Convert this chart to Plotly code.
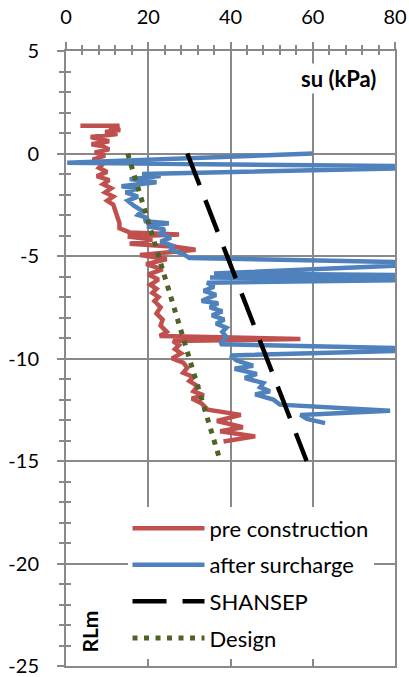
import plotly.graph_objects as go

# ---------------- data ----------------
pre_su = [3.5, 13.0, 10.5, 13.2, 9.5, 12.5, 6.0, 8.5, 10.5, 6.2, 9.0, 10.5, 7.0, 9.5, 6.5, 9.0, 8.0,
          10.0, 7.5, 10.5, 9.0, 11.0, 9.5, 11.5, 10.0, 11.5, 12.0, 12.3, 13.0, 13.0, 15.5, 27.5, 15.0,
          21.0, 15.5, 26.5, 31.5, 18.0, 24.5, 19.5, 23.5, 20.0, 22.5, 20.5, 22.0, 21.0, 22.5, 21.5,
          23.0, 22.0, 23.5, 23.0, 24.5, 22.8, 57.0, 26.0, 27.5, 26.5, 28.0, 25.8, 28.5, 29.5, 28.5,
          31.0, 30.0, 32.0, 31.0, 33.5, 30.6, 33.0, 34.5, 42.5, 36.7, 43.0, 37.5, 46.0, 38.3]
pre_rl = [1.35, 1.35, 1.25, 1.15, 1.05, 0.95, 0.8, 0.7, 0.6, 0.45, 0.35, 0.2, 0.05, -0.1, -0.3, -0.5, -0.7,
          -0.9, -1.1, -1.3, -1.5, -1.7, -1.9, -2.1, -2.3, -2.5, -2.8, -3.1, -3.4, -3.65, -3.85, -3.95, -4.05,
          -4.2, -4.4, -4.55, -4.7, -4.95, -5.15, -5.4, -5.65, -5.9, -6.15, -6.4, -6.6, -6.8, -7.0, -7.2,
          -7.5, -7.8, -8.1, -8.4, -8.7, -8.9, -9.05, -9.15, -9.35, -9.55, -9.75, -10.0, -10.2, -10.45, -10.7,
          -10.9, -11.1, -11.35, -11.6, -11.8, -11.95, -12.2, -12.5, -12.75, -13.05, -13.35, -13.55, -13.8, -14.05]

post_su = [60.0, 0.3, 97.0, 23.0, 18.5, 23.0, 15.5, 22.0, 13.5, 17.5, 14.5, 17.5, 15.0, 16.5, 18.5, 17.5,
           20.0, 19.0, 25.0, 19.7, 24.0, 23.0, 25.5, 23.0, 26.0, 25.5, 28.5, 30.0, 95.0, 36.0, 95.0, 35.0,
           95.0, 34.3, 36.0, 33.5, 36.5, 34.0, 33.0, 37.0, 35.0, 38.0, 35.5, 38.5, 36.5, 39.0, 38.0, 39.0,
           37.5, 95.0, 40.0, 41.5, 45.5, 41.0, 46.4, 43.5, 48.0, 47.2, 49.6, 46.0, 50.4, 52.0, 78.8, 57.0,
           58.6, 63.0]
post_rl = [0.0, -0.45, -0.65, -0.95, -1.0, -1.1, -1.25, -1.4, -1.6, -1.7, -1.9, -2.1, -2.3, -2.55, -2.8, -3.0,
           -3.15, -3.3, -3.4, -3.55, -3.7, -3.9, -4.1, -4.3, -4.5, -4.7, -4.9, -5.1, -5.35, -5.85, -5.95, -6.05,
           -6.15, -6.3, -6.5, -6.7, -6.9, -7.1, -7.2, -7.3, -7.5, -7.7, -7.9, -8.1, -8.3, -8.5, -8.7, -8.95,
           -9.3, -9.55, -9.85, -10.1, -10.35, -10.5, -10.75, -10.95, -11.2, -11.4, -11.6, -11.75, -12.0, -12.25, -12.55, -12.75,
           -12.95, -13.15]

shansep_su = [29.5, 58.5]
shansep_rl = [0.0, -15.0]

design_su = [15.0, 37.5]
design_rl = [0.0, -15.0]

x_ticks = [0, 20, 40, 60, 80]
y_ticks = [5, 0, -5, -10, -15, -20, -25]
y_tick_text = ["5", "0", "-5", "-10", "-15", "-20", "-25"]

# ---------------- figure ----------------
FONT = "Lato"
GRID = "#898989"

fig = go.Figure()
fig.add_trace(go.Scatter(x=pre_su, y=pre_rl, mode="lines", name="pre construction",
                         legendgroup="a", line=dict(color="#C0504D", width=4.5)))
fig.add_trace(go.Scatter(x=post_su, y=post_rl, mode="lines", name="after surcharge",
                         legendgroup="b", line=dict(color="#4F81BD", width=4.5)))
fig.add_trace(go.Scatter(x=shansep_su, y=shansep_rl, mode="lines", name="SHANSEP",
                         legendgroup="c", line=dict(color="black", width=4.5, dash="34px,16px")))
fig.add_trace(go.Scatter(x=design_su, y=design_rl, mode="lines", name="Design",
                         legendgroup="d", line=dict(color="#4F6228", width=5, dash="5px,6.5px")))

fig.update_layout(
    width=409, height=677,
    margin=dict(l=66, r=14, t=51, b=11, autoexpand=False),
    paper_bgcolor="white", plot_bgcolor="white",
    font=dict(family=FONT, size=20, color="black"),
    showlegend=True,
    legend=dict(x=0.187, y=0.258, xanchor="left", yanchor="top", bgcolor="white",
                font=dict(family=FONT, size=22, color="black"),
                tracegroupgap=5, itemwidth=72),
    xaxis=dict(range=[0, 80], side="top", tickvals=x_ticks, automargin=False,
               showgrid=True, gridcolor=GRID, gridwidth=2,
               showline=True, linecolor=GRID, linewidth=2, mirror=True,
               ticks="outside", ticklen=7, tickwidth=2, tickcolor=GRID,
               minor=dict(dtick=4, tick0=0, ticks="outside", ticklen=4, tickwidth=2,
                          tickcolor=GRID, showgrid=False),
               zeroline=False, ticklabelstandoff=10,
               tickfont=dict(family=FONT, size=20, color="black")),
    yaxis=dict(range=[-25, 5], tickvals=y_ticks, ticktext=y_tick_text, automargin=False,
               showgrid=True, gridcolor=GRID, gridwidth=2,
               showline=True, linecolor=GRID, linewidth=2, mirror=True,
               ticks="outside", ticklen=7, tickwidth=2, tickcolor=GRID,
               minor=dict(dtick=1, tick0=0, ticks="outside", ticklen=5, tickwidth=2,
                          tickcolor=GRID, showgrid=False),
               zeroline=False, ticklabelstandoff=14,
               tickfont=dict(family=FONT, size=20, color="black")),
    xaxis2=dict(overlaying="x", side="top", range=[0, 80], tickvals=x_ticks, automargin=False,
                showgrid=False, showline=False, zeroline=False, showticklabels=False,
                ticks="inside", ticklen=7, tickwidth=2, tickcolor=GRID,
                minor=dict(dtick=4, tick0=0, ticks="inside", ticklen=4, tickwidth=2,
                           tickcolor=GRID, showgrid=False)),
    yaxis2=dict(overlaying="y", side="left", range=[-25, 5], tickvals=y_ticks, automargin=False,
                showgrid=False, showline=False, zeroline=False, showticklabels=False,
                ticks="inside", ticklen=7, tickwidth=2, tickcolor=GRID,
                minor=dict(dtick=1, tick0=0, ticks="inside", ticklen=5, tickwidth=2,
                           tickcolor=GRID, showgrid=False)),
    annotations=[
        dict(text="<b>su (kPa)</b>", xref="paper", yref="paper", x=0.827, y=0.956,
             xanchor="center", yanchor="middle",
             showarrow=False, bgcolor="white", font=dict(family=FONT, size=22, color="black")),
        dict(text="<b>RLm</b>", xref="paper", yref="paper", x=0.073, y=0.056, textangle=-90,
             xanchor="center", yanchor="middle",
             showarrow=False, font=dict(family=FONT, size=21, color="black")),
    ],
)

# invisible anchor trace so the overlay tick axes are drawn
fig.add_trace(go.Scatter(x=[None], y=[None], xaxis="x2", yaxis="y2", showlegend=False,
                         hoverinfo="skip"))

fig.write_html("out.html")
